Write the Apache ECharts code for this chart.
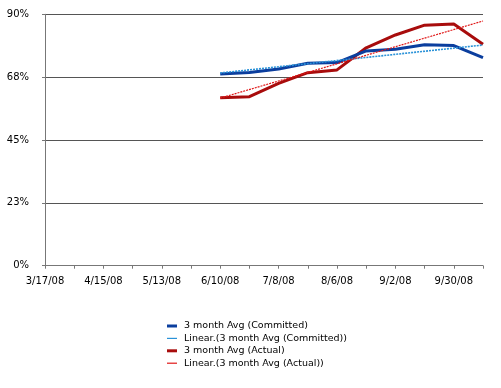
<!DOCTYPE html>
<html>
<head>
<meta charset="utf-8">
<script src="https://cdn.jsdelivr.net/npm/echarts@6/dist/echarts.min.js"></script>
<style>html,body{margin:0;padding:0;background:#fff}#c{width:501px;height:388px}</style>
</head>
<body>
<div id="c"></div>
<script>
var categories = ['3/17/08','3/31/08','4/15/08','4/29/08','5/13/08','5/27/08','6/10/08','6/24/08','7/8/08','7/22/08','8/6/08','8/20/08','9/2/08','9/16/08','9/30/08','10/14/08'];
var committed = [null,null,null,null,null,null,68.6,69.2,70.4,72.5,72.7,76.9,77.5,79.1,78.8,74.5];
var committedTrend = [null,null,null,null,null,null,69.0,null,null,null,null,null,null,null,null,79.0];
var actual = [null,null,null,null,null,null,60.1,60.5,65.3,69.1,70.1,78.0,82.6,86.1,86.5,79.3];
var actualTrend = [null,null,null,null,null,null,60.0,null,null,null,null,null,null,null,null,87.6];
var yTicks = [0, 22.5, 45, 67.5, 90];
var seriesNames = ['3 month Avg (Committed)','Linear.(3 month Avg (Committed))','3 month Avg (Actual)','Linear.(3 month Avg (Actual))'];

var chart = echarts.init(document.getElementById('c'));
var font = 'DejaVu Sans';
chart.setOption({
  animation: false,
  backgroundColor: '#fff',
  grid: {left: 45, right: 18, top: 14.3, bottom: 122.3, containLabel: false},
  xAxis: {
    type: 'category',
    data: categories,
    boundaryGap: false,
    axisLine: {show: true, lineStyle: {color: '#777', width: 1}},
    axisTick: {show: true, interval: 0, length: 3, lineStyle: {color: '#777'}},
    axisLabel: {interval: 1, color: '#000', fontFamily: font, fontSize: 10, margin: 11},
    splitLine: {show: false}
  },
  yAxis: {
    type: 'value',
    min: yTicks[0], max: yTicks[yTicks.length - 1], interval: yTicks[1] - yTicks[0],
    axisLine: {show: true, lineStyle: {color: '#777', width: 1}},
    axisTick: {show: true, length: 3, lineStyle: {color: '#777'}},
    axisLabel: {color: '#000', fontFamily: font, fontSize: 10, margin: 16,
      formatter: function (v) { return Math.round(v) + '%'; }},
    splitLine: {show: true, lineStyle: {color: '#555', width: 1}}
  },
  legend: {
    orient: 'vertical',
    left: 167, top: 320, padding: 0,
    itemWidth: 10, itemHeight: 12, itemGap: 0.4,
    textStyle: {color: '#000', fontFamily: font, fontSize: 9.5, lineHeight: 12, padding: [0,0,0,2]},
    data: [
      {name: seriesNames[0], icon: 'path://M0,0H10V3H0Z'},
      {name: seriesNames[1], icon: 'path://M0,0H10V1.2H0Z'},
      {name: seriesNames[2], icon: 'path://M0,0H10V3H0Z'},
      {name: seriesNames[3], icon: 'path://M0,0H10V1.2H0Z'}
    ]
  },
  series: [
    {name: seriesNames[0], type: 'line', data: committed, showSymbol: false, symbol: 'none',
      color: '#0B3E9E', lineStyle: {color: '#0B3E9E', width: 3}, z: 3},
    {name: seriesNames[1], type: 'line', data: committedTrend, connectNulls: true, showSymbol: false, symbol: 'none',
      color: '#2A92D8', lineStyle: {color: '#2A92D8', width: 1.6, type: [2, 1]}, z: 4},
    {name: seriesNames[2], type: 'line', data: actual, showSymbol: false, symbol: 'none',
      color: '#A80C0C', lineStyle: {color: '#A80C0C', width: 3}, z: 2},
    {name: seriesNames[3], type: 'line', data: actualTrend, connectNulls: true, showSymbol: false, symbol: 'none',
      color: '#E01818', lineStyle: {color: '#E01818', width: 1.2, type: [2, 1]}, z: 4}
  ]
});
</script>
</body>
</html>
